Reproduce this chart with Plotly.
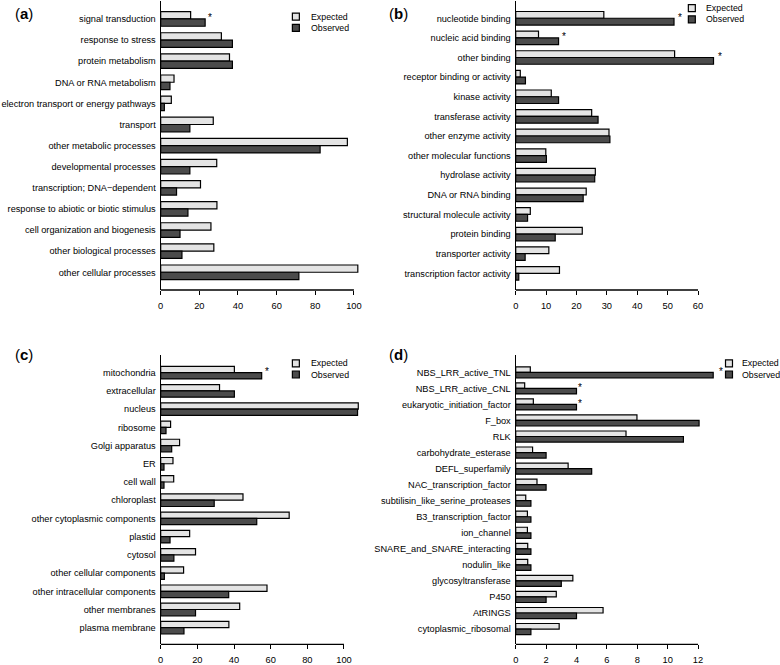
import plotly.graph_objects as go

W, H = 780, 665

# ---------------- data ----------------
a_cats = ["signal transduction", "response to stress", "protein metabolism", "DNA or RNA metabolism",
          "electron transport or energy pathways", "transport", "other metabolic processes",
          "developmental processes", "transcription; DNA\u2212dependent", "response to abiotic or biotic stimulus",
          "cell organization and biogenesis", "other biological processes", "other cellular processes"]
a_exp = [15.5, 31.4, 35.6, 6.9, 5.5, 27.2, 96.6, 29.0, 20.6, 29.1, 26.0, 27.5, 102.0]
a_obs = [23.0, 37.1, 37.1, 4.8, 1.9, 15.1, 82.5, 15.1, 8.2, 14.1, 10.0, 11.0, 71.5]
a_sig = ["signal transduction"]
a_ticks = [0, 20, 40, 60, 80, 100]

b_cats = ["nucleotide binding", "nucleic acid binding", "other binding", "receptor binding or activity",
          "kinase activity", "transferase activity", "other enzyme activity", "other molecular functions",
          "hydrolase activity", "DNA or RNA binding", "structural molecule activity", "protein binding",
          "transporter activity", "transcription factor activity"]
b_exp = [29.0, 7.5, 52.3, 1.5, 11.7, 25.0, 30.7, 9.9, 26.2, 23.2, 4.8, 21.9, 10.9, 14.4]
b_obs = [52.1, 14.1, 65.1, 3.2, 14.1, 27.1, 31.0, 10.1, 26.0, 22.2, 3.9, 13.0, 3.1, 1.0]
b_sig = ["nucleotide binding", "nucleic acid binding", "other binding"]
b_ticks = [0, 10, 20, 30, 40, 50, 60]

c_cats = ["mitochondria", "extracellular", "nucleus", "ribosome", "Golgi apparatus", "ER", "cell wall",
          "chloroplast", "other cytoplasmic components", "plastid", "cytosol", "other cellular components",
          "other intracellular components", "other membranes", "plasma membrane"]
c_exp = [40.2, 32.1, 107.8, 5.4, 10.3, 6.7, 7.1, 44.9, 70.1, 15.8, 19.0, 12.5, 58.0, 43.1, 37.2]
c_obs = [55.1, 40.2, 107.4, 2.9, 6.0, 1.8, 1.8, 29.2, 52.4, 5.1, 7.2, 2.0, 37.1, 19.0, 12.7]
c_sig = ["mitochondria"]
c_ticks = [0, 20, 40, 60, 80, 100]

d_cats = ["NBS_LRR_active_TNL", "NBS_LRR_active_CNL", "eukaryotic_initiation_factor", "F_box", "RLK",
          "carbohydrate_esterase", "DEFL_superfamily", "NAC_transcription_factor",
          "subtilisin_like_serine_proteases", "B3_transcription_factor", "ion_channel",
          "SNARE_and_SNARE_interacting", "nodulin_like", "glycosyltransferase", "P450", "AtRINGS",
          "cytoplasmic_ribosomal"]
d_exp = [0.96, 0.59, 1.16, 7.98, 7.26, 1.11, 3.45, 1.4, 0.66, 0.77, 0.77, 0.79, 0.79, 3.76, 2.67, 5.75, 2.86]
d_obs = [13.0, 4.0, 4.0, 12.07, 11.04, 2.0, 5.0, 2.0, 1.0, 1.0, 1.0, 1.0, 1.0, 3.0, 2.0, 4.0, 1.0]
d_sig = ["NBS_LRR_active_TNL", "NBS_LRR_active_CNL", "eukaryotic_initiation_factor"]
d_ticks = [0, 2, 4, 6, 8, 10, 12]

series_names = ["Expected", "Observed"]
panel_labels = ["a", "b", "c", "d"]

# ---------------- style ----------------
FONT = "Liberation Sans, Arial, Helvetica, sans-serif"
EXP_COLOR = "#e4e4e4"
OBS_COLOR = "#4b4b4b"
EDGE = "#000000"
TXT = "#000000"


def px_x(p):
    return p / W


def px_y(p):
    return 1 - p / H


panels = [
    dict(cats=a_cats, exp=a_exp, obs=a_obs, sig=a_sig, ticks=a_ticks,
         x0=158.3, ppu=1.94, xmax=105, top=1, bot=290, pt=0.85, pb=0.84,
         lab=(21, 14), leg=(294, 16.7, 307), shift=[5]),
    dict(cats=b_cats, exp=b_exp, obs=b_obs, sig=b_sig, ticks=b_ticks,
         x0=514.7, ppu=3.05, xmax=66, top=1, bot=290, pt=0.88, pb=0.85,
         lab=(397, 14), leg=(691.5, 8.2, 703.5), shift=[6, 5, 6]),
    dict(cats=c_cats, exp=c_exp, obs=c_obs, sig=c_sig, ticks=c_ticks,
         x0=158.3, ppu=1.84, xmax=110, top=355, bot=644.3, pt=0.97, pb=0.91,
         lab=(21, 354), leg=(294, 363.3, 307), shift=[5]),
    dict(cats=d_cats, exp=d_exp, obs=d_obs, sig=d_sig, ticks=d_ticks,
         x0=514.7, ppu=15.25, xmax=13.3, top=355, bot=644.3, pt=1.08, pb=0.95,
         lab=(397, 354), leg=(728.8, 363.3, 739.5), shift=[8, 4, 4]),
]

fig = go.Figure()
shapes = []
annotations = []

for i, p in enumerate(panels):
    k = "" if i == 0 else str(i + 1)
    xa, ya = "x" + k, "y" + k
    for name, vals, col in [(series_names[0], p["exp"], EXP_COLOR), (series_names[1], p["obs"], OBS_COLOR)]:
        fig.add_trace(go.Bar(
            x=vals, y=p["cats"], orientation="h", name=name,
            marker=dict(color=col, line=dict(color=EDGE, width=1.2)),
            xaxis=xa, yaxis=ya, showlegend=False, hoverinfo="x+y"))

    n = len(p["cats"])
    right = p["x0"] + p["xmax"] * p["ppu"]
    fig.layout["xaxis" + k] = dict(
        domain=[px_x(p["x0"]), px_x(right)], range=[0, p["xmax"]], anchor=ya,
        showline=False, showgrid=False, zeroline=False,
        tickvals=p["ticks"], ticktext=[str(t) for t in p["ticks"]],
        ticks="outside", ticklen=4, tickwidth=1.3, tickcolor=EDGE,
        ticklabelstandoff=3,
        tickfont=dict(family=FONT, size=9.3, color=TXT))
    fig.layout["yaxis" + k] = dict(
        domain=[px_y(p["bot"]), px_y(p["top"])], anchor=xa,
        type="category", categoryorder="array", categoryarray=p["cats"],
        range=[n - 1 + p["pb"], -p["pt"]],
        showline=True, linecolor=EDGE, linewidth=1.3, showgrid=False, zeroline=False,
        ticks="", ticklabelstandoff=2,
        tickfont=dict(family=FONT, size=9.2, color=TXT))

    # x axis line spanning up to the last tick
    shapes.append(dict(type="line", xref=xa, yref=ya + " domain",
                       x0=0, x1=p["ticks"][-1], y0=0, y1=0,
                       line=dict(color=EDGE, width=1.3)))

    # significance stars
    for j, c in enumerate(p["sig"]):
        idx = p["cats"].index(c)
        annotations.append(dict(xref=xa, yref=ya, x=max(p["exp"][idx], p["obs"][idx]), y=c,
                                text="*", showarrow=False, xanchor="center", yanchor="middle",
                                xshift=p["shift"][j], yshift=1,
                                font=dict(family=FONT, size=10, color=TXT)))

    # panel label
    lx, ly = p["lab"]
    annotations.append(dict(xref="paper", yref="paper", x=px_x(lx), y=px_y(ly),
                            text="(<b>%s</b>)" % panel_labels[i], showarrow=False,
                            xanchor="center", yanchor="middle",
                            font=dict(family=FONT, size=15, color=TXT)))

    # legend
    sx, sy, tx = p["leg"]
    for r, (name, col) in enumerate([(series_names[0], EXP_COLOR), (series_names[1], OBS_COLOR)]):
        cy = sy + r * 11.2
        shapes.append(dict(type="rect", xref="paper", yref="paper",
                           x0=px_x(sx - 3.5), x1=px_x(sx + 3.5), y0=px_y(cy + 3.5), y1=px_y(cy - 3.5),
                           fillcolor=col, line=dict(color=EDGE, width=1.2)))
        annotations.append(dict(xref="paper", yref="paper", x=px_x(tx), y=px_y(cy),
                                text=name, showarrow=False, xanchor="left", yanchor="middle",
                                font=dict(family=FONT, size=8.8, color=TXT)))

fig.update_layout(
    width=W, height=H, margin=dict(l=0, r=0, t=0, b=0),
    paper_bgcolor="white", plot_bgcolor="white",
    barmode="group", bargap=0.31, bargroupgap=0,
    shapes=shapes, annotations=annotations, showlegend=False,
    font=dict(family=FONT, size=9, color=TXT))

fig.write_html("out.html", config={"displayModeBar": False},
               post_script="document.body.style.margin='0';document.body.style.overflow='hidden';")
